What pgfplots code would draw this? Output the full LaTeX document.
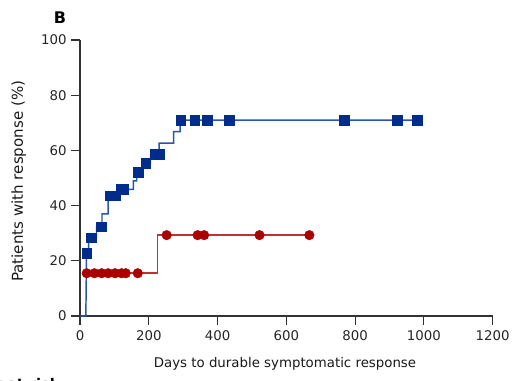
\documentclass[border=0pt]{standalone}
\usepackage{pgfplots}
\pgfplotsset{compat=1.18}
\usepackage{fontspec}
\setmainfont{DejaVu Sans}
\definecolor{bmark}{RGB}{0,45,140}
\definecolor{bline}{RGB}{40,85,175}
\definecolor{rmark}{RGB}{170,0,0}
\definecolor{rline}{RGB}{190,50,55}
\begin{document}
\begin{tikzpicture}
\begin{axis}[
  at={(0,0)}, anchor=south west,
  scale only axis, width=309.5pt, height=207pt,
  xmin=0, xmax=1200, ymin=0, ymax=100,
  axis x line=bottom, axis y line=left,
  axis line style={-, line width=1pt, color=black!80},
  tick style={line width=0.9pt, color=black!80},
  tick align=outside, major tick length=6.5pt,
  xtick={0,200,...,1200}, ytick={0,20,...,100},
  minor tick num=0,
  ticklabel style={font=\fontsize{10}{12}\selectfont, color=black!85},
  xticklabel style={yshift=-1pt},
  /pgf/number format/assume math mode=true,
  /pgf/number format/1000 sep={},
  clip=false,
]
% blue step line
\addplot[bline, line width=1.1pt] coordinates {
(0,0)(17,0)(19,22.7)(25,22.7)(25,28.4)(48,28.4)(48,32.4)(64,32.4)(64,37)(82,37)(82,43.6)(110,43.6)(110,45.9)(155,45.9)(155,49)(165,49)(165,52)(180,52)(180,54)(188,54)(188,55.3)(205,55.3)(205,58.6)(230,58.6)(230,62.6)(272,62.6)(272,66.8)(291,66.8)(291,71)(981,71)};
% red step line
\addplot[rline, line width=1.1pt] coordinates {
(19,15.5)(225,15.5)(225,29.3)(667,29.3)};
% blue markers
\addplot[only marks, mark=square*, mark size=3.6pt, color=bmark, mark options={line width=0.3pt}] coordinates {
(19.5,22.7)(32,28.4)(61,32.4)(87,43.6)(102,43.6)(119,45.9)(126,45.9)(170,52)(191,55.3)(218,58.6)(230,58.6)(293,71)(334,71)(370,71)(434,71)(768,71)(922,71)(981,71)};
% red markers
\addplot[only marks, mark=*, mark size=3.6pt, color=rmark, mark options={line width=0.3pt}] coordinates {
(19.5,15.5)(42,15.5)(63,15.5)(82,15.5)(102,15.5)(121,15.5)(133,15.5)(168,15.5)(252,29.3)(342,29.3)(361,29.3)(522,29.3)(667,29.3)};
\end{axis}
\node[font=\fontsize{10}{12}\selectfont, text=black!90] at (153.75pt,-36pt) {Days to durable symptomatic response};
\node[font=\fontsize{11.3}{13}\selectfont, text=black!90, rotate=90] at (-46pt,101pt) {Patients with response (\%)};
\node[font=\bfseries\fontsize{12}{14}\selectfont] at (-15pt,224pt) {B};
\node[anchor=base east, inner sep=0pt, font=\bfseries\fontsize{11}{13}\selectfont] at (-15pt,-55pt) {Number at risk};
\pgfresetboundingbox
\useasboundingbox (-60pt,-48pt) rectangle (324.75pt,237pt);
\end{tikzpicture}
\end{document}
